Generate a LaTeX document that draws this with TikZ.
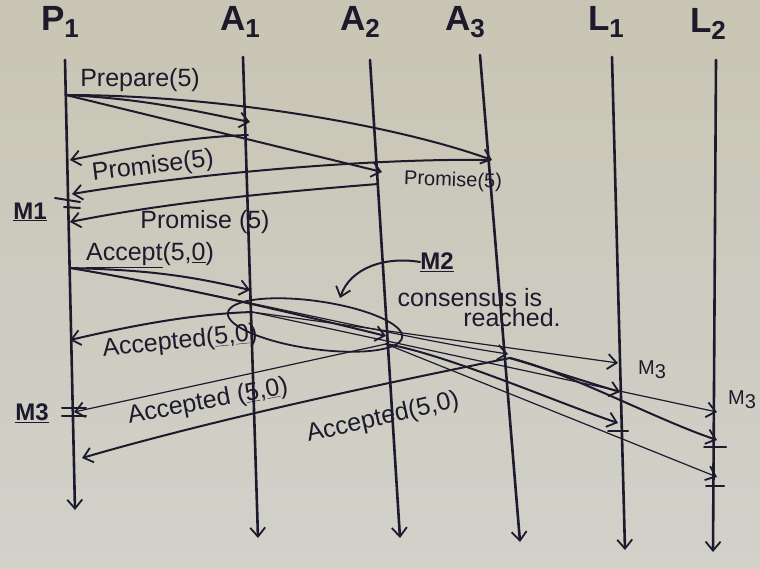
\documentclass[tikz,border=0pt]{standalone}
\usepackage{fontspec}
\setmainfont{Liberation Sans}
\usetikzlibrary{arrows.meta,calc}
\definecolor{ink}{RGB}{28,26,44}
\definecolor{paperA}{RGB}{200,197,180}
\definecolor{paperB}{RGB}{210,209,202}
\newcommand\hdrlab[2]{#1\raisebox{-.22em}{\fontsize{26}{26}\selectfont #2}}
\begin{document}
\begin{tikzpicture}[x=1pt,y=-1pt,line cap=round,line join=round,
  tip/.style={-{Straight Barb[length=9pt,width=15pt,line width=1.8pt]}},
  life/.style={ink,line width=2.6pt,tip},
  msg/.style={ink,line width=2pt,tip},
  fmsg/.style={ink,line width=1.2pt,tip},
  head/.style={font=\fontsize{35}{38}\selectfont\bfseries,text=ink,inner sep=0pt},
  lab/.style={font=\fontsize{25}{28}\selectfont,text=ink,inner sep=0pt},
  slab/.style={font=\fontsize{20}{22}\selectfont,text=ink,inner sep=0pt},
  mlab/.style={font=\fontsize{24}{26}\selectfont\bfseries,text=ink,inner sep=0pt},
  tick/.style={ink,line width=2pt}]
\path[use as bounding box,top color=paperA,bottom color=paperB] (0,0) rectangle (760,568);

% headers
\node[head] (hp1) at (60,22) {\hdrlab{P}{1}};
\node[head] (ha1) at (240,22) {\hdrlab{A}{1}};
\node[head] (ha2) at (360,22) {\hdrlab{A}{2}};
\node[head] (ha3) at (465,22) {\hdrlab{A}{3}};
\node[head] (hl1) at (606,22) {\hdrlab{L}{1}};
\node[head] (hl2) at (708,24) {\hdrlab{L}{2}};

% lifelines
\coordinate (p1t) at (65,60);  \coordinate (p1b) at (75,510);
\coordinate (a1t) at (243,57); \coordinate (a1b) at (258,538);
\coordinate (a2t) at (370,60); \coordinate (a2b) at (400,538);
\coordinate (a3t) at (480,55); \coordinate (a3b) at (520,542);
\coordinate (l1t) at (612,57); \coordinate (l1b) at (625,550);
\coordinate (l2t) at (716,60); \coordinate (l2b) at (713,552);
\foreach \n in {p1,a1,a2,a3,l1,l2} \draw[life] (\n t) -- (\n b);

% message end points
\coordinate (p1prep) at (66,95);
\coordinate (a1prep) at (250,122);
\coordinate (a2prep) at (382,172);
\coordinate (a3prep) at (492,160);
\coordinate (a1prom) at (248,135);  \coordinate (p1promA) at (70,160);
\coordinate (a3prom) at (490,160);  \coordinate (p1promC) at (72,194);
\coordinate (a2prom) at (378,184);  \coordinate (p1promB) at (70,222);
\coordinate (p1acc) at (70,268);
\coordinate (a1acc) at (250,290);
\coordinate (a2acc) at (386,336);
\coordinate (a3acc) at (508,354);
\coordinate (a1acd) at (252,312);  \coordinate (p1acdA) at (70,340);
\coordinate (a2acd) at (386,344);  \coordinate (p1acdB) at (74,412);
\coordinate (a3acd) at (510,358);  \coordinate (p1acdC) at (82,458);
\coordinate (l1a) at (618,363); \coordinate (l1b2) at (620,392); \coordinate (l1c) at (618,423);
\coordinate (l2a) at (717,412); \coordinate (l2b2) at (717,440); \coordinate (l2c) at (717,477);

% Prepare
\draw[msg] (p1prep) .. controls +(80,4) and +(-60,-12) .. (a1prep);
\draw[msg] (p1prep) -- (a2prep);
\draw[msg] (p1prep) .. controls +(150,0) and +(-100,-36) .. (a3prep);
\node[lab] (prep) at (140,80) {Prepare(5)};

% Promise
\draw[msg] (a1prom) .. controls +(-60,2) and +(60,-12) .. (p1promA);
\node[lab,rotate=7] (prom1) at (153,167) {Promise(5)};
\draw[msg] (a3prom) .. controls +(-120,-2) and +(120,-20) .. (p1promC);
\node[slab,rotate=-2] (prom3) at (453,181) {Promise(5)};
\draw[msg] (a2prom) .. controls +(-100,8) and +(100,-20) .. (p1promB);
\node[lab] (prom2) at (205,222) {Promise (5)};
\node[mlab] (m1) at (30,212) {\underline{M1}};
\draw[tick] (55,198) -- (80,202);
\draw[tick] (64,207) -- (80,208);

% Accept
\node[lab] (acc) at (150,255) {\underline{Accept}(5,\underline{0})};
\draw[msg] (p1acc) .. controls +(80,2) and +(-60,-14) .. (a1acc);
\draw[msg] (p1acc) .. controls +(120,20) and +(-90,-22) .. (a2acc);
\draw[fmsg] (p1acc) .. controls +(150,25) and +(-120,-18) .. (a3acc);

% consensus ellipse and M2
\draw[ink,line width=1.8pt,rotate around={-8:(315,325)}] (315,325) ellipse [x radius=88,y radius=24];
\node[mlab] (m2) at (437,262) {\underline{M2}};
\coordinate (m2tip) at (340,298);
\draw[msg] (m2.west) .. controls (385,256) and (350,268) .. (m2tip);
\node[lab] (cons1) at (470,298) {consensus is};
\node[lab] (cons2) at (512,318) {reached.};

% Accepted to proposer
\draw[msg] (a1acd) .. controls +(-60,2) and +(60,-14) .. (p1acdA);
\node[lab,rotate=6] (acd1) at (180,342) {Accepted(\underline{5},\underline{0})};
\draw[fmsg] (a2acd) -- (p1acdB);
\node[lab,rotate=11] (acd2) at (208,402) {Accepted (\underline{5},\underline{0})};
\draw[msg] (a3acd) .. controls +(-150,30) and +(120,-35) .. (p1acdC);
\node[lab,rotate=13] (acd3) at (383,418) {Accepted(5,0)};
\node[mlab] (m3) at (32,413) {\underline{M3}};
\draw[tick] (62,408) -- (86,408);
\draw[tick] (62,416) -- (86,416);

% Accepted to learners
\draw[fmsg] (a1acd) -- (l1a);
\draw[fmsg] (a1acd) -- (l2a);
\draw[msg] (a2acd) .. controls +(60,10) and +(-60,-20) .. (l1c);
\draw[fmsg] (a2acd) -- (l2c);
\draw[msg] (a3acd) .. controls +(40,12) and +(-40,-12) .. (l1b2);
\draw[msg] (a3acd) .. controls +(60,15) and +(-60,-20) .. (l2b2);
\draw[tick] (608,431) -- (628,431);
\draw[tick] (704,447) -- (726,447);
\draw[tick] (706,486) -- (724,486);
\node[slab] (m3a) at (652,370) {M\raisebox{-.2em}{3}};
\node[slab] (m3b) at (742,400) {M\raisebox{-.2em}{3}};
\end{tikzpicture}
\end{document}
